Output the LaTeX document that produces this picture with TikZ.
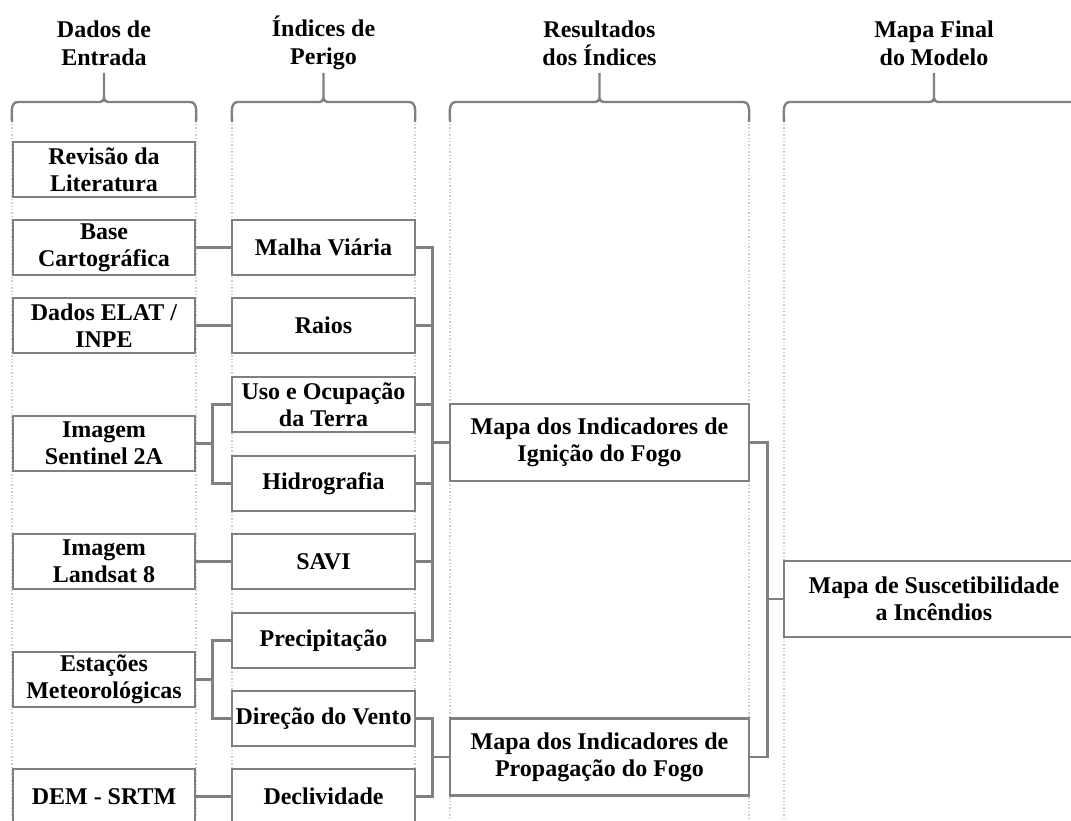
\documentclass[tikz,border=0pt]{standalone}
\usepackage{fontspec}
\setmainfont{Liberation Serif}

\begin{document}
\begin{tikzpicture}[
		x=1pt,y=-1pt,
		caixa/.style={draw=gray,line width=2.8pt,fill=white,minimum width=#1,minimum height=55,inner sep=0pt,align=center,font=\bfseries\fontsize{24}{27}\selectfont},
		caixa/.default=182,
		titulo/.style={align=center,inner sep=0pt,font=\bfseries\fontsize{24}{28}\selectfont},
		ligacao/.style={draw=gray,line width=2.4pt},
		guia/.style={draw=gray!40,dotted,line width=1.4pt},
		chave/.style={draw=gray,line width=2.4pt}]
		
		\clip (0,0) rectangle (1071,821);
		
		%colunas
		\foreach \esq/\meio/\dir/\texto [count=\i] in {12/104/196/{Dados de\\Entrada}, 232/323.5/415/{Índices de\\Perigo}, 450/599.5/749/{Resultados\\dos Índices}, 784/934/1084/{Mapa Final\\do Modelo}}
		{
		\node[titulo] (titulo\i) at (\meio,43) {\texto};
		\draw[guia] (\esq,124) -- (\esq,821);
		\draw[guia] (\dir,124) -- (\dir,821);
		\draw[chave] (\esq,122) to[out=90,in=180] (\esq+6,102) -- (\meio-4,102) to[out=0,in=-90] (\meio,98) -- (\meio,73);
		\draw[chave] (\dir,122) to[out=90,in=0] (\dir-6,102) -- (\meio+4,102) to[out=180,in=-90] (\meio,98);
		}
		
		%dados de entrada
		\node[caixa] (revisao) at (104,169.5) {Revisão da\\Literatura};
		\node[caixa] (base) at (104,247.5) {Base\\Cartográfica};
		\node[caixa] (elat) at (104,325.5) {Dados ELAT /\\INPE};
		\node[caixa] (sentinel) at (104,443.5) {Imagem\\Sentinel 2A};
		\node[caixa] (landsat) at (104,561.5) {Imagem\\Landsat 8};
		\node[caixa] (estacoes) at (104,679.5) {Estações\\Meteorológicas};
		\node[caixa] (dem) at (104,796.5) {DEM - SRTM};
		
		%indices
		\node[caixa=183] (malha) at (323.5,247.5) {Malha Viária};
		\node[caixa=183] (raios) at (323.5,325.5) {Raios};
		\node[caixa=183] (uso) at (323.5,404.5) {Uso e Ocupação\\da Terra};
		\node[caixa=183] (hidro) at (323.5,483.5) {Hidrografia};
		\node[caixa=183] (savi) at (323.5,561.5) {SAVI};
		\node[caixa=183] (precip) at (323.5,640.5) {Precipitação};
		\node[caixa=183] (direcao) at (323.5,718.5) {Direção do Vento};
		\node[caixa=183] (decliv) at (323.5,796.5) {Declividade};
		
		%resultados
		\node[caixa=299,minimum height=77] (ignicao) at (599.5,442.5) {Mapa dos Indicadores de\\Ignição do Fogo};
		\node[caixa=299,minimum height=77] (propagacao) at (599.5,757) {Mapa dos Indicadores de\\Propagação do Fogo};
		
		%mapa final
		\node[caixa=300,minimum height=76] (suscet) at (934,599) {Mapa de Suscetibilidade\\a Incêndios};
		
		%ligacoes
		\draw[ligacao] (base.east) -- (malha.west);
		\draw[ligacao] (elat.east) -- (raios.west);
		\draw[ligacao] (landsat.east) -- (savi.west);
		\draw[ligacao] (dem.east) -- (decliv.west);
		\foreach \alvo in {uso,hidro}
		\draw[ligacao] (sentinel.east) -- ++(16,0) |- (\alvo.west);
		\foreach \alvo in {precip,direcao}
		\draw[ligacao] (estacoes.east) -- ++(16,0) |- (\alvo.west);
		\foreach \fonte in {malha,raios,uso,hidro,savi,precip}
		\draw[ligacao] (\fonte.east) -- ++(16,0) |- (ignicao.west);
		\foreach \fonte in {direcao,decliv}
		\draw[ligacao] (\fonte.east) -- ++(16,0) |- (propagacao.west);
		\foreach \fonte in {ignicao,propagacao}
		\draw[ligacao] (\fonte.east) -- ++(17,0) |- (suscet.west);
		
	\end{tikzpicture}
\end{document}
